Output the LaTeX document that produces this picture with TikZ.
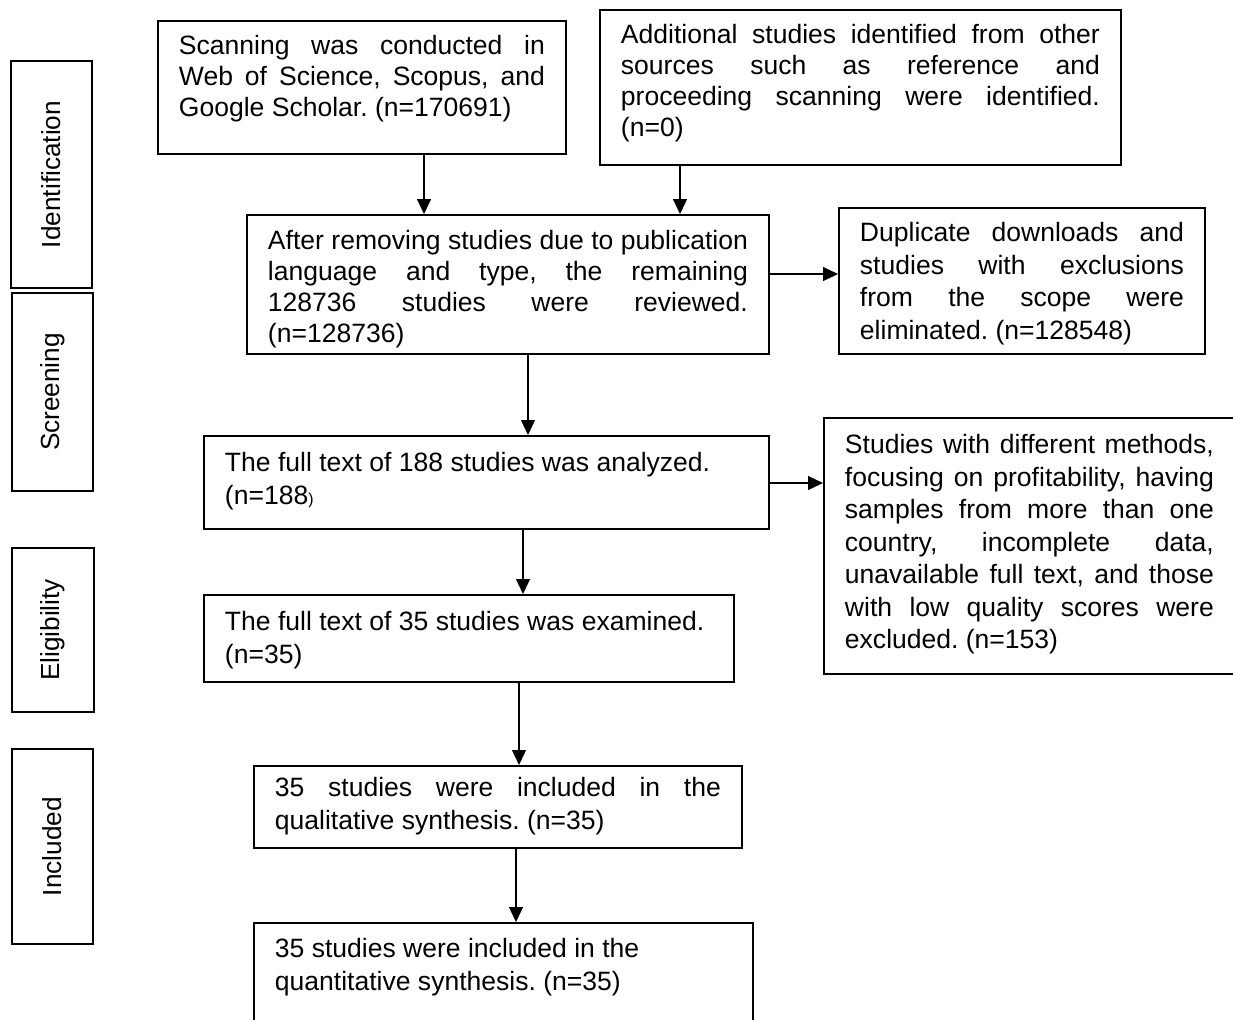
\documentclass[tikz,border=0pt]{standalone}
\usepackage{fontspec}
\setmainfont{Liberation Sans}
\usetikzlibrary{arrows.meta}
\frenchspacing

\tikzset{
  flow/.style={draw, line width=1.1pt, anchor=north west, align=justify, inner xsep=0.42cm, inner ysep=0pt},
  flowsmall/.style={flow, font=\fontsize{15.1}{17.6}\selectfont},
  flowbig/.style={flow, font=\fontsize{15.1}{18.5}\selectfont},
  phase/.style={draw, line width=1.6pt, rotate=90, inner sep=0pt, font=\fontsize{14.9}{17}\selectfont},
  link/.style={-{Triangle[length=0.3cm, width=0.28cm]}, line width=0.7pt}
}

\begin{document}
\begin{tikzpicture}[x=0.02cm, y=-0.02cm]
\useasboundingbox (0,0) rectangle (1233,1019);

% phases
\node [phase, minimum width=4.54cm, minimum height=1.62cm] (ident) at (51.5,174.5) {Identification};
\node [phase, minimum width=3.96cm, minimum height=1.62cm] (screen) at (52.5,392) {Screening};
\node [phase, minimum width=3.28cm, minimum height=1.64cm] (elig) at (53,630) {Eligibility};
\node [phase, minimum width=3.9cm, minimum height=1.62cm] (incl) at (52.5,846.5) {Included};

% boxes
\node [flowsmall, text width=7.32cm, text height=0.68cm, text depth=1.98cm] (scan) at (157,20)
  {Scanning was conducted in\linebreak Web of Science, Scopus, and\linebreak Google Scholar. (n=170691)};
\node [flowsmall, text width=9.58cm, text height=0.68cm, text depth=2.42cm] (other) at (599,9)
  {Additional studies identified from other\linebreak sources such as reference and\linebreak proceeding scanning were identified.\linebreak (n=0)};
\node [flowsmall, text width=9.6cm, text height=0.7cm, text depth=2.08cm] (screened) at (246,214)
  {After removing studies due to publication\linebreak language and type, the remaining\linebreak 128736 studies were reviewed.\linebreak (n=128736)};
\node [flowbig, text width=6.48cm, text height=0.68cm, text depth=2.24cm] (dupes) at (838,207)
  {Duplicate downloads and\linebreak studies with exclusions\linebreak from the scope were\linebreak eliminated. (n=128548)};
\node [flowbig, text width=10.46cm, text height=0.72cm, text depth=1.14cm] (fulltext) at (203,435)
  {The full text of 188 studies was analyzed.\\(n=188{\fontsize{9}{9}\selectfont)}};
\node [flowbig, text width=7.38cm, text height=0.72cm, text depth=4.4cm] (excl) at (823,417)
  {Studies with different methods,\linebreak focusing on profitability, having\linebreak samples from more than one\linebreak country, incomplete data,\linebreak unavailable full text, and those\linebreak with low quality scores were\linebreak excluded. (n=153)};
\node [flowbig, text width=9.76cm, text height=0.72cm, text depth=1.02cm] (eligible) at (203,594)
  {The full text of 35 studies was examined.\\(n=35)};
\node [flowbig, text width=8.92cm, text height=0.62cm, text depth=1.02cm] (qual) at (253,765)
  {35 studies were included in the\linebreak qualitative synthesis. (n=35)};
\node [flowbig, text width=9.14cm, text height=0.7cm, text depth=1.56cm] (quant) at (253,922)
  {35 studies were included in the\\quantitative synthesis. (n=35)};

% arrows
\draw [link] (scan.south -| 424,0) -- (screened.north -| 424,0);
\draw [link] (other.south -| 680,0) -- (screened.north -| 680,0);
\draw [link] (screened.east |- 0,274) -- (dupes.west |- 0,274);
\draw [link] (screened.south -| 528,0) -- (fulltext.north -| 528,0);
\draw [link] (fulltext.east |- 0,483) -- (excl.west |- 0,483);
\draw [link] (fulltext.south -| 523,0) -- (eligible.north -| 523,0);
\draw [link] (eligible.south -| 519,0) -- (qual.north -| 519,0);
\draw [link] (qual.south -| 516,0) -- (quant.north -| 516,0);
\end{tikzpicture}
\end{document}
